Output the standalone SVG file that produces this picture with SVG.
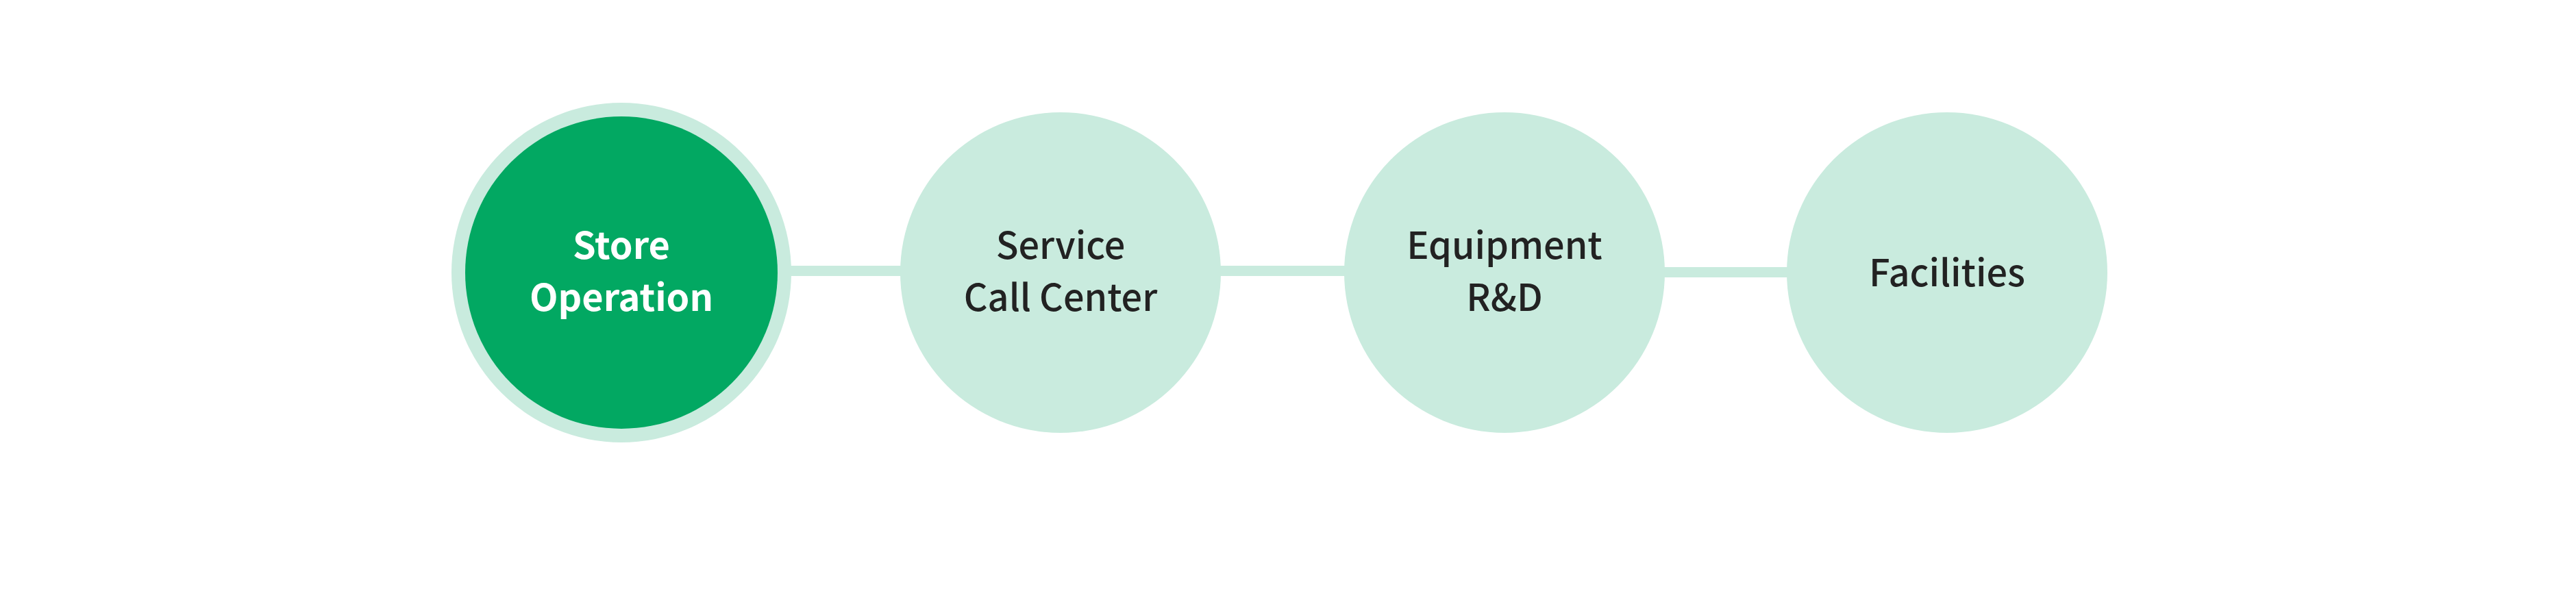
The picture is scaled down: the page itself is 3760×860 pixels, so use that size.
<svg xmlns="http://www.w3.org/2000/svg" width="3760" height="860" viewBox="0 0 3760 860">
  <style>
    .lbl { font-family: "Noto Sans CJK KR", "Noto Sans", "Liberation Sans", sans-serif; font-size: 54px; font-weight: 500; text-anchor: middle; fill: #222222; }
    .lbl.active { fill: #ffffff; font-weight: 700; }
    .soft { fill: #c9ebde; }
    .conn { fill: #c9ebde; }
  </style>
  <rect width="3760" height="860" fill="#ffffff"/>
  <g id="connectors">
    <rect class="conn" x="1150" y="388" width="170" height="15"/>
    <rect class="conn" x="1775" y="388" width="192" height="15"/>
    <rect class="conn" x="2424" y="390" width="190" height="15"/>
  </g>
  <g id="node-store-operation">
    <circle cx="907" cy="398" r="248" class="soft"/>
    <circle cx="907" cy="398" r="228" fill="#02a862"/>
    <text class="lbl active" x="907" y="378">Store</text>
    <text class="lbl active" x="907" y="454">Operation</text>
  </g>
  <g id="node-service-call-center">
    <circle cx="1548" cy="398" r="234" class="soft"/>
    <text class="lbl" x="1548" y="378">Service</text>
    <text class="lbl" x="1548" y="454">Call Center</text>
  </g>
  <g id="node-equipment-rd">
    <circle cx="2196" cy="398" r="234" class="soft"/>
    <text class="lbl" x="2196" y="378">Equipment</text>
    <text class="lbl" x="2196" y="454">R&amp;D</text>
  </g>
  <g id="node-facilities">
    <circle cx="2842" cy="398" r="234" class="soft"/>
    <text class="lbl" x="2842" y="418">Facilities</text>
  </g>
</svg>
